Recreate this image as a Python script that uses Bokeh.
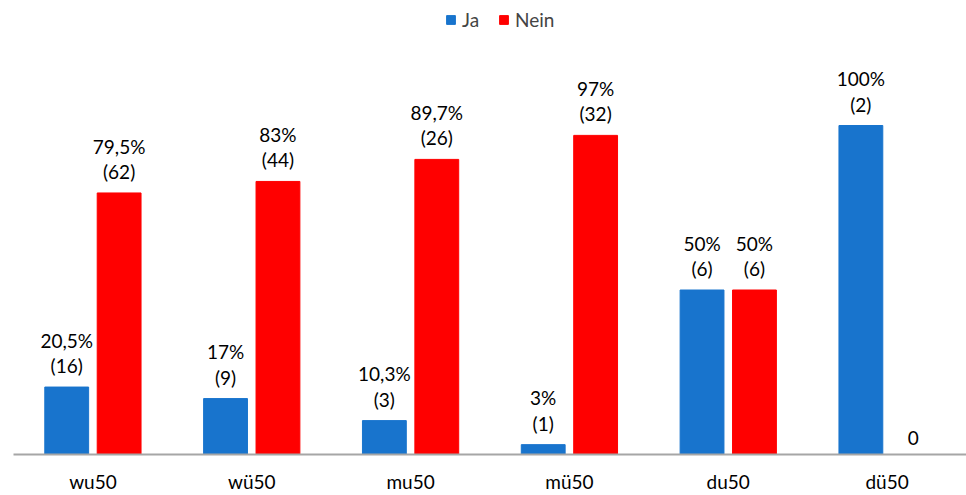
from bokeh.plotting import figure
from bokeh.models import ColumnDataSource, Range1d, FixedTicker, Legend, LegendItem
from bokeh.transform import dodge
from bokeh.core.properties import value
from bokeh.embed import file_html
from bokeh.resources import INLINE

categories = ["wu50", "wü50", "mu50", "mü50", "du50", "dü50"]
ja_pct = [20.5, 17, 10.3, 3, 50, 100]
ja_n = [16, 9, 3, 1, 6, 2]
nein_pct = [79.5, 83, 89.7, 97, 50, 0]
nein_n = [62, 44, 26, 32, 6, 0]


def lbl(pct, n):
    if pct == 0:
        return "0"
    return f"{pct:g}".replace(".", ",") + "%\n(" + str(n) + ")"


src = ColumnDataSource(dict(
    idx=list(range(len(categories))),
    ja=ja_pct, nein=nein_pct,
    ja_lbl=[lbl(a, b) for a, b in zip(ja_pct, ja_n)],
    nein_lbl=[lbl(a, b) for a, b in zip(nein_pct, nein_n)],
))

FONT = "Lato"
BLUE = "#1874CD"
RED = "#FF0000"
FS = "19px"

p = figure(width=966, height=495, x_range=Range1d(-0.5, 5.5), y_range=Range1d(0, 138.0),
           output_backend="svg", toolbar_location=None, y_axis_location=None,
           min_border_left=13, min_border_right=0, min_border_top=0, min_border_bottom=38)
p.outline_line_color = None
p.xgrid.visible = False
p.ygrid.visible = False

off = 0.165
w = 0.276
r1 = p.vbar(x=dodge("idx", -off, range=p.x_range), top="ja", width=w, source=src,
            fill_color=BLUE, line_color=BLUE)
r2 = p.vbar(x=dodge("idx", off, range=p.x_range), top="nein", width=w, source=src,
            fill_color=RED, line_color=RED)

for col, lab, o in (("ja", "ja_lbl", -off), ("nein", "nein_lbl", off)):
    p.text(x=dodge("idx", o, range=p.x_range), y=col, text=lab, source=src,
           text_align="center", text_baseline="bottom", y_offset=-10,
           text_font=value(FONT), text_font_size=FS, text_line_height=1.1,
           text_color="#000000")

ax = p.xaxis[0]
ax.ticker = FixedTicker(ticks=list(range(len(categories))))
ax.major_label_overrides = {i: c for i, c in enumerate(categories)}
ax.axis_line_color = "#A6A6A6"
ax.axis_line_width = 2
ax.major_tick_line_color = None
ax.minor_tick_line_color = None
ax.major_label_text_font = FONT
ax.major_label_text_font_size = FS
ax.major_label_text_color = "#000000"
ax.major_label_standoff = 9

legend = Legend(items=[LegendItem(label="Ja", renderers=[r1]), LegendItem(label="Nein", renderers=[r2])],
                location=(432, 423), orientation="horizontal", border_line_color=None,
                background_fill_alpha=0, label_text_font=FONT, label_text_font_size=FS,
                glyph_width=11, glyph_height=11, label_standoff=6, spacing=16,
                padding=0, margin=0)
p.add_layout(legend)

open("out.html", "w").write(file_html(p, INLINE))
